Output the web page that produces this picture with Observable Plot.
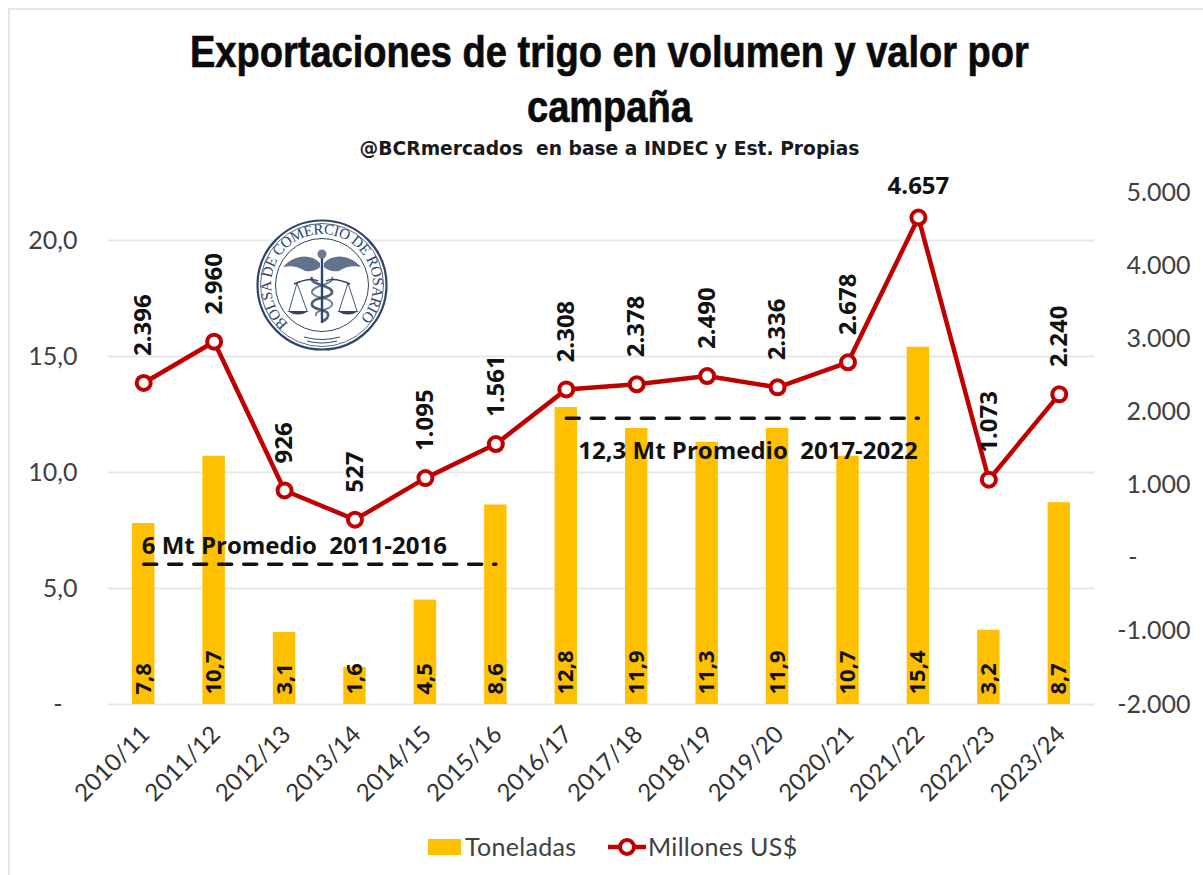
<!DOCTYPE html>
<html lang="es">
<head>
<meta charset="utf-8">
<script src="https://cdn.jsdelivr.net/npm/d3@7"></script>
<script src="https://cdn.jsdelivr.net/npm/@observablehq/plot@0.6"></script>
<style>
  html, body { margin: 0; padding: 0; background: #fff; }
  #page { position: relative; width: 1203px; height: 875px; overflow: hidden; box-sizing: border-box; }
  #frame { position: absolute; left: 8px; top: 8px; width: 1300px; height: 1000px; border: 2px solid #e6e6e6; box-sizing: border-box; }
  #title { position: absolute; left: 0; top: 24px; width: 1219px; text-align: center; font: bold 45px/55px "Liberation Sans", sans-serif; color: #0a0a0a; -webkit-text-stroke: .7px #0a0a0a; transform: scaleX(.845); transform-origin: 609px 0; }
  #subtitle { position: absolute; left: 0; top: 137px; width: 1219px; text-align: center; font: bold 18.7px/24px "DejaVu Sans", sans-serif; color: #1a1a1a; white-space: pre; }
  #chart { position: absolute; left: 0; top: 170px; }
  #legend { position: absolute; left: 0; top: 828px; width: 1203px; height: 36px; font: 25px/36px Lato, sans-serif; color: #404040; letter-spacing: .3px; }
  #legend span { position: absolute; top: 0; }
  #legend i { position: absolute; display: block; }
</style>
</head>
<body>
<div id="page">
  <div id="frame"></div>
  <div id="title">Exportaciones de trigo en volumen y valor por<br>campaña</div>
  <div id="subtitle">@BCRmercados  en base a INDEC y Est. Propias</div>
  <div id="chart"></div>
  <div id="legend">
    <i style="left:428px;top:11px;width:33px;height:16px;background:#FFC000"></i>
    <span style="left:465px">Toneladas</span>
    <svg style="position:absolute;left:606px;top:0" width="42" height="36"><line x1="2" x2="40" y1="19" y2="19" stroke="#C00000" stroke-width="4.5"/><circle cx="21" cy="19" r="7" fill="#fff" stroke="#C00000" stroke-width="4"/></svg>
    <span style="left:648px">Millones US$</span>
  </div>
</div>
<script>
const campaigns = ["2010/11","2011/12","2012/13","2013/14","2014/15","2015/16","2016/17","2017/18","2018/19","2019/20","2020/21","2021/22","2022/23","2023/24"];
const toneladas = [7.8,10.7,3.1,1.6,4.5,8.6,12.8,11.9,11.3,11.9,10.7,15.4,3.2,8.7];
const millones = [2396,2960,926,527,1095,1561,2308,2378,2490,2336,2678,4657,1073,2240];
const leftTicks = [5,10,15,20];
const rightTicks = [-2000,-1000,1000,2000,3000,4000,5000];
const promedios = [
  {label:"6 Mt Promedio  2011-2016", value:6, from:"2010/11", to:"2015/16"},
  {label:"12,3 Mt Promedio  2017-2022", value:12.3, from:"2016/17", to:"2021/22"}
];

const leftMax = 22.07;
const rightMin = -2000, rightMax = 5000;
const toLeft = v => (v - rightMin) / (rightMax - rightMin) * leftMax;
const fmtLeft = v => v.toFixed(1).replace(".", ",");
const fmtRight = v => (v < 0 ? "-" : "") + d3.format(",")(Math.abs(v)).replace(/,/g, ".");

const rows = campaigns.map((c, i) => ({c, t: toneladas[i], m: millones[i], my: toLeft(millones[i])}));
const fs = 'Lato, sans-serif';
const bold = '"Open Sans", sans-serif';

function logo() {
  const g = document.createElementNS("http://www.w3.org/2000/svg", "g");
  g.setAttribute("transform", "translate(322,115)");
  const c = "#2f4468";
  g.innerHTML = `
    <circle r="64.5" fill="#fff" stroke="${c}" stroke-width="2.2"/>
    <circle r="61.5" fill="none" stroke="${c}" stroke-width=".8"/>
    <circle r="46.5" fill="none" stroke="${c}" stroke-width="1"/>
    <path id="logoArc" d="M-33.5,38.5 A51,51 0 1 1 33.5,38.5" fill="none"/>
    <text text-anchor="start" font-size="15" fill="${c}" style="font-family:'Liberation Serif',serif;text-anchor:start"><textPath href="#logoArc" textLength="240" lengthAdjust="spacing">BOLSA DE COMERCIO DE ROSARIO</textPath></text>
    <path d="M-18,52 Q0,57 18,52 M-15,56 Q0,60 15,56" fill="none" stroke="${c}" stroke-width="1"/>
    <path d="M-2,-22 C-12,-32 -28,-30 -39,-18 C-28,-20 -22,-17 -17,-14 C-10,-13 -5,-15 -2,-18 Z" fill="${c}" opacity=".75"/>
    <path d="M2,-22 C12,-32 28,-30 39,-18 C28,-20 22,-17 17,-14 C10,-13 5,-15 2,-18 Z" fill="${c}" opacity=".75"/>
    <circle cx="0" cy="-31" r="4.5" fill="${c}" opacity=".7"/>
    <path d="M0,-27 V38" stroke="${c}" stroke-width="2.4"/>
    <path d="M-28,-1 Q-12,-8 -4,-4 M28,-1 Q12,-8 4,-4" fill="none" stroke="${c}" stroke-width="1.6"/>
    <path d="M-25,-2 L-33,26 M-25,-2 L-15,26 M26,-2 L17,26 M26,-2 L35,26" fill="none" stroke="${c}" stroke-width=".9"/>
    <path d="M-35,26 Q-24,33 -13,26 Z M15,26 Q26,33 37,26 Z" fill="${c}"/>
    <path d="M-10,-8 C-14,0 12,0 10,8 C8,14 -12,12 -10,20 C-8,26 8,24 6,31 C5,34 2,36 0,36" fill="none" stroke="${c}" stroke-width="2.6" opacity=".85"/>
    <path d="M10,-8 C14,0 -12,0 -10,8 C-8,14 12,12 10,20 C8,26 -8,24 -6,31" fill="none" stroke="${c}" stroke-width="1.8" opacity=".7"/>`;
  return g;
}

const plot = Plot.plot({
  width: 1203,
  height: 645,
  marginTop: 22,
  marginBottom: 111,
  marginLeft: 108,
  marginRight: 109,
  style: {fontFamily: fs, background: "transparent", overflow: "visible"},
  x: {type: "band", domain: campaigns, padding: 0, round: false, label: null},
  y: {domain: [0, leftMax], label: null},
  marks: [
    Plot.ruleY([0, ...leftTicks], {stroke: "#e7e7e7", strokeWidth: 2}),
    Plot.barY(rows, {x: "c", y: "t", fill: "#FFC000", insetLeft: 24, insetRight: 24}),
    Plot.axisX({tickRotate: -45, tickSize: 0, tickPadding: 26, dx: 2, fontSize: 24, fill: "#333", label: null}),
    Plot.axisY(leftTicks, {anchor: "left", tickSize: 0, tickPadding: 31, tickFormat: fmtLeft, fontSize: 25, fill: "#404040", label: null}),
    Plot.axisY([0], {anchor: "left", tickSize: 0, tickPadding: 46, tickFormat: () => "-", fontSize: 25, fill: "#404040", label: null}),
    Plot.axisY(rightTicks.map(toLeft), {anchor: "right", tickSize: 0, tickPadding: 96, textAnchor: "end", tickFormat: (d) => fmtRight(Math.round(d / leftMax * (rightMax - rightMin) + rightMin)), fontSize: 25, fill: "#404040", label: null}),
    Plot.axisY([toLeft(0)], {anchor: "right", tickSize: 0, tickPadding: 43, textAnchor: "end", tickFormat: () => "-", fontSize: 25, fill: "#404040", label: null}),
    Plot.lineY(rows, {x: "c", y: "my", stroke: "#C00000", strokeWidth: 4.5}),
    Plot.dot(rows, {x: "c", y: "my", r: 7, fill: "#fff", stroke: "#C00000", strokeWidth: 4}),
    ...promedios.map(p => Plot.lineY([{x: p.from, y: p.value}, {x: p.to, y: p.value}], {x: "x", y: "y", dy: -1, stroke: "#111", strokeWidth: 3.5, strokeDasharray: "13 12"})),
    Plot.text([promedios[0]], {x: "from", y: "value", text: "label", textAnchor: "start", dx: -2, dy: -19, fontSize: 24, fontWeight: "bold", fontFamily: bold, fill: "#111", style: {whiteSpace: "pre"}}),
    Plot.text([promedios[1]], {x: "from", y: "value", text: "label", textAnchor: "start", dx: 12, dy: 32, fontSize: 24, fontWeight: "bold", fontFamily: bold, fill: "#111", style: {whiteSpace: "pre"}}),
    Plot.text(rows, {x: "c", y: 0, text: d => fmtLeft(d.t), rotate: -90, textAnchor: "start", dy: -10, fontSize: 22, fontWeight: "bold", fontFamily: bold, fill: "#111"}),
    Plot.text(rows.filter(d => d.m !== 4657), {x: "c", y: "my", text: d => fmtRight(d.m), rotate: -90, textAnchor: "start", dy: -27, fontSize: 24, fontWeight: "bold", fontFamily: bold, fill: "#111"}),
    Plot.text(rows.filter(d => d.m === 4657), {x: "c", y: "my", text: d => fmtRight(d.m), dy: -31, fontSize: 24, fontWeight: "bold", fontFamily: bold, fill: "#111"}),
    logo
  ]
});
document.getElementById("chart").appendChild(plot);
</script>
</body>
</html>
